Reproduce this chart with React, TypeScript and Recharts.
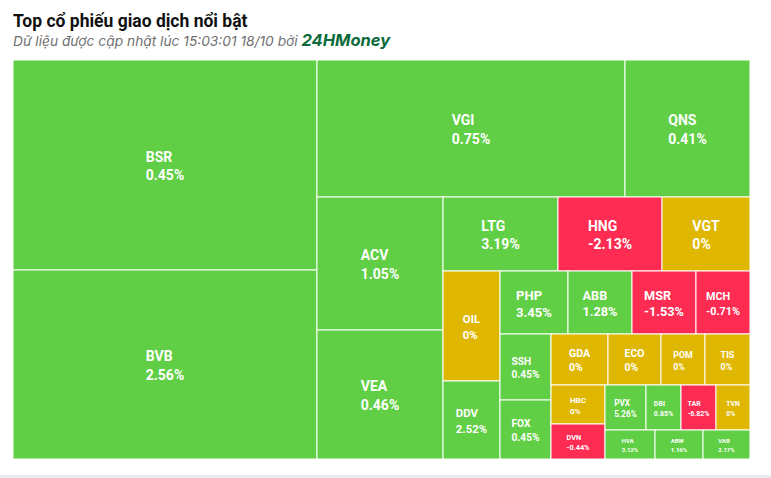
import React from 'react';
import { Treemap } from 'recharts';

// ---- data ----
const tickers = ['BSR', 'BVB', 'VGI', 'QNS', 'ACV', 'VEA', 'LTG', 'HNG', 'VGT', 'OIL', 'DDV', 'PHP', 'ABB', 'MSR', 'MCH', 'SSH', 'FOX', 'GDA', 'ECO', 'POM', 'TIS', 'HBC', 'DVN', 'PVX', 'DBI', 'TAR', 'TVN', 'HVA', 'ABW', 'VAB'];
const changes = [0.45, 2.56, 0.75, 0.41, 1.05, 0.46, 3.19, -2.13, 0, 0, 2.52, 3.45, 1.28, -1.53, -0.71, 0.45, 0.45, 0, 0, 0, 0, 0, -0.44, 5.26, 0.85, -6.82, 0, 3.12, 1.16, 2.17];
const tradeValues = [63700, 57300, 42200, 17100, 16700, 16200, 8480, 7650, 6550, 6213, 4503, 4230, 3980, 3980, 3360, 3340, 3009, 2850, 2650, 2200, 2250, 2100, 1890, 1845, 1575, 1575, 1485, 1450, 1392, 1363];
// grouping of the tiles (null = empty separator of value 0)
const grouping: any[] = ['BSR', 'BVB', [['VGI', 'QNS'], ['ACV', 'VEA', [['LTG', 'HNG', 'VGT'], ['OIL', 'DDV', [['PHP', 'ABB', 'MSR', 'MCH'], ['SSH', 'FOX', [null, ['GDA', 'ECO', 'POM', 'TIS'], ['HBC', 'DVN', [null, ['PVX', 'DBI', 'TAR', 'TVN'], ['HVA', 'ABW', 'VAB']]]]]]]]]]];

const title = 'Top cổ phiếu giao dịch nổi bật';
const subtitle = 'Dữ liệu được cập nhật lúc 15:03:01 18/10 bởi ';
const brand = '24HMoney';

const GREEN = '#60cf45';
const RED = '#fe2b52';
const YELLOW = '#dfb701';

let gid = 0;
function build(spec: any): any {
  if (spec === null) return { name: `sep${gid++}`, size: 0 };
  if (typeof spec === 'string') {
    const i = tickers.indexOf(spec);
    return { name: spec, size: tradeValues[i], change: changes[i] };
  }
  return { name: `grp${gid++}`, children: spec.map(build) };
}
const treeData = build(grouping).children;

let ctx: CanvasRenderingContext2D | null = null;
function textWidth(t: string, font: string) {
  if (!ctx) ctx = document.createElement('canvas').getContext('2d');
  if (!ctx) return t.length * 7;
  ctx.font = font;
  return ctx.measureText(t).width;
}

function fmt(c: number) {
  return c === 0 ? '0%' : `${c.toFixed(2)}%`;
}

const TileContent = (props: any) => {
  const { x, y, width, height, change, name } = props;
  if (change === undefined || !(width > 0) || !(height > 0)) return null;
  const fill = change > 0 ? GREEN : change < 0 ? RED : YELLOW;
  const f = Math.max(6, Math.min(14, Math.sqrt(width * height) / 5, width / 5.0, height / 4.8));
  const font = `bold ${f}px Roboto`;
  const pct = fmt(change);
  const w = Math.max(textWidth(name, font), textWidth(pct, font));
  const cx = x + width / 2;
  const cy = y + height / 2;
  const spacing = 1.2 * f + 1.5;
  const cap = 0.711 * f;
  const b1 = cy + 1 - (spacing - cap) / 2;
  const tx = cx - w / 2;
  return (
    <g>
      <rect x={x} y={y} width={width} height={height} fill={fill} stroke="#ffffff" strokeWidth={1} />
      <text x={tx} y={b1} fill="#ffffff" fontFamily="Roboto" fontWeight="bold" fontSize={f}>{name}</text>
      <text x={tx} y={b1 + spacing} fill="#ffffff" fontFamily="Roboto" fontWeight="bold" fontSize={f}>{pct}</text>
    </g>
  );
};

export default function App() {
  return (
    <div style={{ position: 'fixed', left: 0, top: 0, width: 771, height: 478, background: '#ffffff', overflow: 'hidden' }}>
      <svg width={771} height={58} style={{ position: 'absolute', left: 0, top: 0 }}>
        <text x={13} y={26.5} fontFamily="Roboto" fontWeight="bold" fontSize={17.5} fill="#111111">{title}</text>
        <text x={13} y={45.5} fontFamily="Inter" fontStyle="italic" fontSize={13.75} fill="#707070">
          {subtitle}
          <tspan fontWeight="bold" fontSize={16.5} fill="#0c6b3b">{brand}</tspan>
        </text>
      </svg>
      <div style={{ position: 'absolute', left: 13, top: 60 }}>
        <Treemap
          width={737}
          height={399}
          data={treeData}
          dataKey="size"
          nameKey="name"
          aspectRatio={1.5}
          isAnimationActive={false}
          content={<TileContent />}
        />
      </div>
      <div style={{ position: 'absolute', left: 0, top: 475, width: 771, height: 3, background: '#e9ebee' }} />
    </div>
  );
}
